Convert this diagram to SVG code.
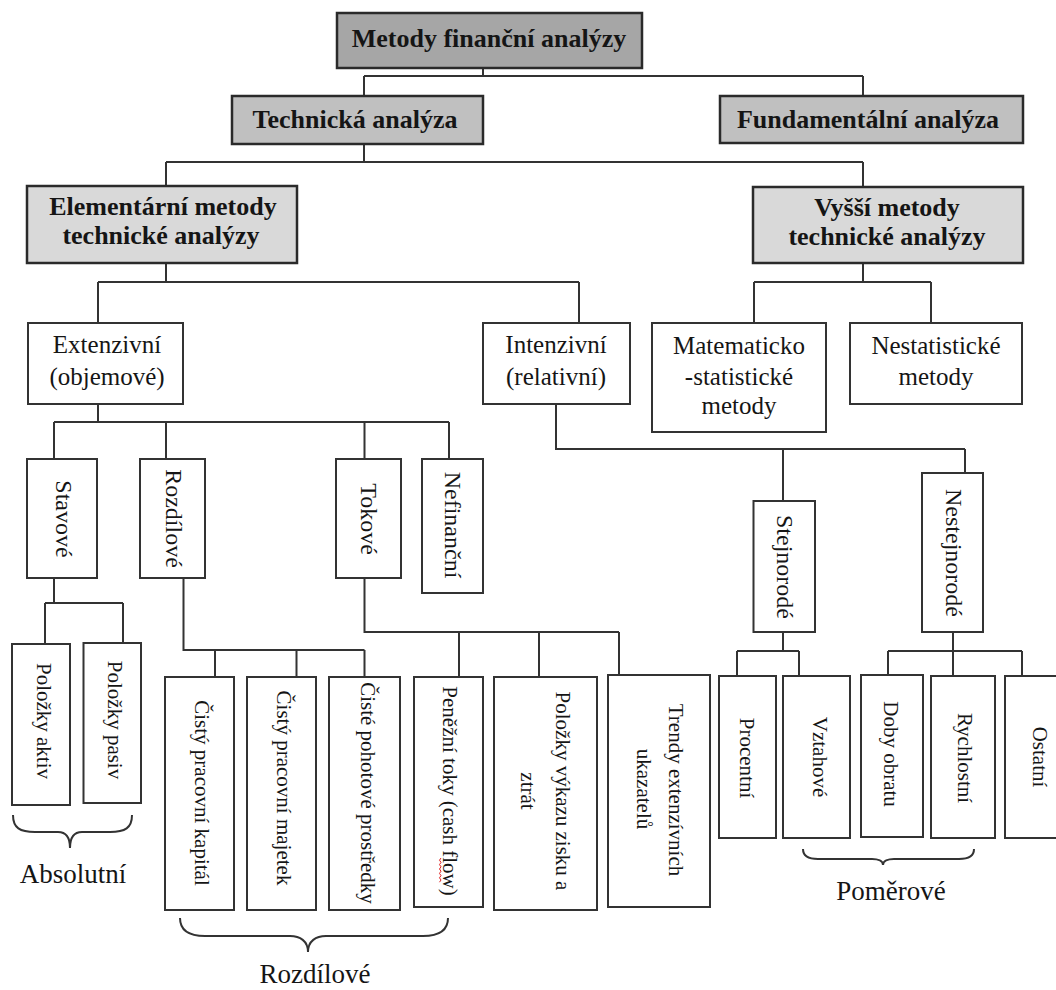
<svg xmlns="http://www.w3.org/2000/svg" width="1056" height="990" viewBox="0 0 1056 990" font-family="Liberation Serif, Times New Roman, serif">
<style>
.bx{fill:#fff;stroke:#333;stroke-width:2}
.g1{fill:#a6a6a6;stroke:#2a2a2a;stroke-width:2.5}
.g2{fill:#c0c0c0;stroke:#2a2a2a;stroke-width:2.5}
.g3{fill:#d9d9d9;stroke:#2a2a2a;stroke-width:2.5}
text{font-family:'Liberation Serif',serif;fill:#151515;text-anchor:middle}
.b{font-size:26px;font-weight:bold}
.t{font-size:25px}
.v{font-size:24px}
.s{font-size:21px}
.l{font-size:27px}
.ln{fill:none;stroke:#333;stroke-width:2}
</style>
<rect width="1056" height="990" fill="#fff"/>
<g id="connectors" class="ln">
<path d="M483,68V76M364,76H863M364,76V96M863,76V96"/>
<path d="M364,144V162M166,162H863M166,162V187M863,162V187"/>
<path d="M166,263V282M98,282H579M98,282V323M579,282V323"/>
<path d="M863,263V282M754,282H931M754,282V323M931,282V323"/>
<path d="M98,404V422M54,422H449M54,422V459M166,422V459M364.5,422V459M449,422V459"/>
<path d="M556,404V449H965M783,449V501M965,449V473"/>
<path d="M54,578V603M45,603H123M45,603V643M123,603V643"/>
<path d="M183.5,578V650H364.5M215,650V677M296.5,650V677M364.5,650V677"/>
<path d="M364.5,578V632H619M459,632V677M539,632V677M619,632V677"/>
<path d="M783,632V651M737,651H799M737,651V676M799,651V676"/>
<path d="M953,632V651M888,651H1022M888,651V676M953,651V676M1022,651V676"/>
</g>
<g id="braces" class="ln" stroke-width="1.6">
<path d="M13,815C13,828 20,832 35,832H58C65,832 70,836 70,848C70,836 75,832 82,832H110C125,832 132,828 132,815"/>
<path d="M180,918C180,931 190,936 205,936H290C300,936 308,941 308,952C308,941 316,936 326,936H423C438,936 448,931 448,918"/>
<path d="M803,849C803,856 808,859 818,859H872C878,859 883,861 883,865C883,861 888,859 894,859H959C969,859 974,856 974,849"/>
</g>
<g id="n-metody"><rect class="g1" x="337" y="13" width="305" height="55"/><text class="b" x="489" y="47">Metody finanční analýzy</text></g>
<g id="n-technicka"><rect class="g2" x="232" y="96" width="251" height="48"/><text class="b" x="355" y="128">Technická analýza</text></g>
<g id="n-fundamentalni"><rect class="g2" x="720" y="96" width="303" height="47"/><text class="b" x="868" y="128">Fundamentální analýza</text></g>
<g id="n-elementarni"><rect class="g3" x="27" y="186" width="270" height="77"/><text class="b" x="163" y="215">Elementární metody</text><text class="b" x="161" y="244">technické analýzy</text></g>
<g id="n-vyssi"><rect class="g3" x="753" y="187" width="270" height="76"/><text class="b" x="887" y="216">Vyšší metody</text><text class="b" x="887" y="245">technické analýzy</text></g>
<g id="n-extenzivni"><rect class="bx" x="28" y="323" width="155" height="81"/><text class="t" x="107" y="353">Extenzivní</text><text class="t" x="107" y="385">(objemové)</text></g>
<g id="n-intenzivni"><rect class="bx" x="483" y="323" width="147" height="81"/><text class="t" x="556" y="353">Intenzivní</text><text class="t" x="556" y="385">(relativní)</text></g>
<g id="n-matematicko"><rect class="bx" x="652" y="323" width="174" height="109"/><text class="t" x="739" y="354">Matematicko</text><text class="t" x="739" y="385">-statistické</text><text class="t" x="739" y="414">metody</text></g>
<g id="n-nestatisticke"><rect class="bx" x="850" y="323" width="172" height="81"/><text class="t" x="936" y="354">Nestatistické</text><text class="t" x="936" y="385">metody</text></g>
<g id="n-stavove"><rect class="bx" x="27" y="459" width="70" height="119"/><text class="v" transform="translate(56,519) rotate(90)">Stavové</text></g>
<g id="n-rozdilove"><rect class="bx" x="140" y="459" width="65" height="119"/><text class="v" transform="translate(166,518.5) rotate(90)">Rozdílové</text></g>
<g id="n-tokove"><rect class="bx" x="336" y="459" width="65" height="119"/><text class="v" transform="translate(361,519) rotate(90)">Tokové</text></g>
<g id="n-nefinancni"><rect class="bx" x="422" y="459" width="61" height="134"/><text class="v" transform="translate(445,525) rotate(90)">Nefinanční</text></g>
<g id="n-stejnorode"><rect class="bx" x="753.5" y="501" width="61.5" height="131"/><text class="v" transform="translate(777,567) rotate(90)">Stejnorodé</text></g>
<g id="n-nestejnorode"><rect class="bx" x="922" y="473" width="61" height="159"/><text class="v" transform="translate(946,553) rotate(90)">Nestejnorodé</text></g>
<g id="n-aktiv"><rect class="bx" x="12" y="644" width="58" height="161"/><text class="s" transform="translate(37,721) rotate(90)">Položky aktiv</text></g>
<g id="n-pasiv"><rect class="bx" x="83.5" y="643" width="57.5" height="160"/><text class="s" transform="translate(108,720) rotate(90)">Položky pasiv</text></g>
<g id="n-kapital"><rect class="bx" x="165" y="677" width="69" height="233"/><text class="s" transform="translate(195,793) rotate(90)">Čistý pracovní kapitál</text></g>
<g id="n-majetek"><rect class="bx" x="247" y="677" width="69" height="233"/><text class="s" transform="translate(276.5,788) rotate(90)">Čistý pracovní majetek</text></g>
<g id="n-pohotove"><rect class="bx" x="329" y="677" width="71" height="233"/><text class="s" transform="translate(361,793) rotate(90)">Čisté pohotové prostředky</text></g>
<g id="n-penezni"><rect class="bx" x="414" y="677" width="69" height="230"/><text class="s" transform="translate(443,791) rotate(90)">Peněžní toky (cash flow)</text><path d="M441,858l-1.5,2.2l1.5,2.2l-1.5,2.2l1.5,2.2l-1.5,2.2l1.5,2.2l-1.5,2.2l1.5,2.2l-1.5,2.2l1.5,2.2l-1.5,2.2" fill="none" stroke="#e02020" stroke-width="1"/></g>
<g id="n-vykaz"><rect class="bx" x="494" y="677" width="103" height="233"/><text class="s" transform="translate(556,791) rotate(90)">Položky výkazu zisku a</text><text class="s" transform="translate(521,791) rotate(90)">ztrát</text></g>
<g id="n-trendy"><rect class="bx" x="608" y="675" width="102" height="232"/><text class="s" transform="translate(669,790) rotate(90)">Trendy extenzívních</text><text class="s" transform="translate(637,789) rotate(90)">ukazatelů</text></g>
<g id="n-procentni"><rect class="bx" x="719" y="676" width="57" height="162"/><text class="s" transform="translate(740,758) rotate(90)">Procentní</text></g>
<g id="n-vztahove"><rect class="bx" x="783" y="676" width="67" height="162"/><text class="s" transform="translate(813,757) rotate(90)">Vztahové</text></g>
<g id="n-doby"><rect class="bx" x="861" y="675" width="62" height="162"/><text class="s" transform="translate(884,754) rotate(90)">Doby obratu</text></g>
<g id="n-rychlostni"><rect class="bx" x="931" y="676" width="64" height="162"/><text class="s" transform="translate(958,758) rotate(90)">Rychlostní</text></g>
<g id="n-ostatni"><rect class="bx" x="1005" y="676" width="60" height="162"/><text class="s" transform="translate(1033,757) rotate(90)">Ostatní</text></g>
<g id="labels"><text class="l" x="73" y="883">Absolutní</text><text class="l" x="315" y="983">Rozdílové</text><text class="l" x="891" y="900">Poměrové</text></g>
</svg>
